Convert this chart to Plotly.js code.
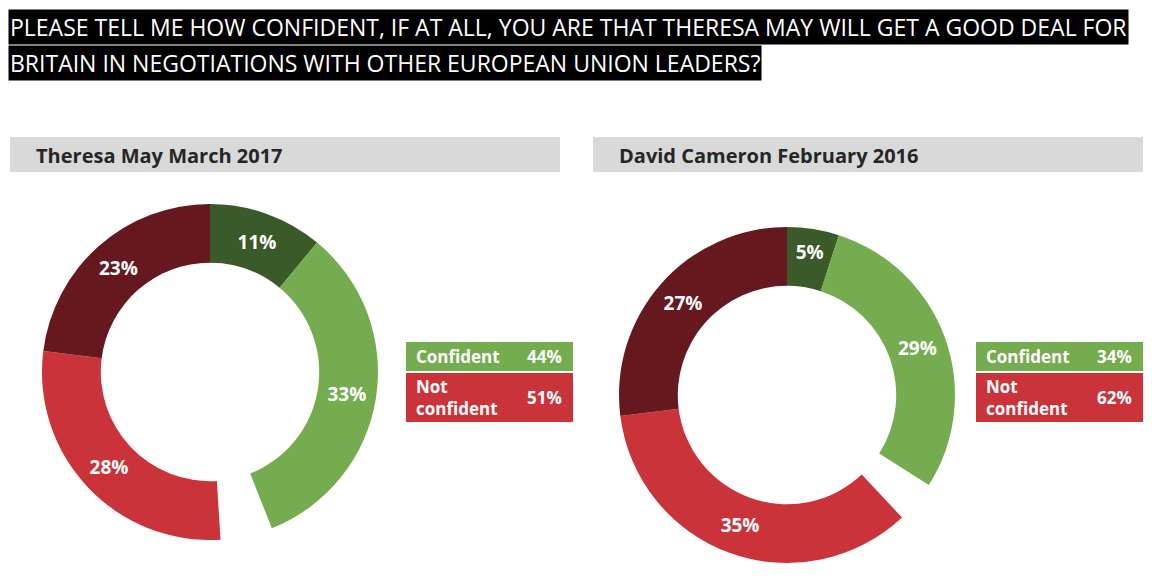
<!DOCTYPE html>
<html>
<head>
<meta charset="utf-8">
<script src="https://cdn.plot.ly/plotly-3.0.1.min.js"></script>
<style>html,body{margin:0;padding:0;background:#fff;}#chart{width:1155px;height:584px;}</style>
</head>
<body>
<div id="chart"></div>
<script>
// Data
var sliceLabels = ["Very confident", "Fairly confident", "Don't know", "Not very confident", "Not at all confident"];
var mayValues = [11, 33, 5, 28, 23];
var cameronValues = [5, 29, 4, 35, 27];
var mayTotals = {confident: 44, notConfident: 51};
var cameronTotals = {confident: 34, notConfident: 62};
var panelTitles = ["Theresa May March 2017", "David Cameron February 2016"];
var questionLines = [
  "PLEASE TELL ME HOW CONFIDENT, IF AT ALL, YOU ARE THAT THERESA MAY WILL GET A GOOD DEAL FOR",
  "BRITAIN IN NEGOTIATIONS WITH OTHER EUROPEAN UNION LEADERS?"
];

var sliceColors = ["#3b5a2a", "#75ac50", "rgba(0,0,0,0)", "#cb333b", "#65191e"];
var FONT = "'Open Sans', 'Noto Sans', sans-serif";
var W = 1155, H = 584;
function px(x){ return x / W; }
function py(y){ return 1 - y / H; }

function texts(vals){
  return vals.map(function(v, i){ return i === 2 ? "" : v + "%"; });
}

function pie(vals, x0, y0, x1, y1){
  return {
    type: "pie",
    values: vals,
    labels: sliceLabels,
    text: texts(vals),
    textinfo: "text",
    textposition: "inside",
    insidetextorientation: "horizontal",
    hole: 0.65,
    sort: false,
    direction: "clockwise",
    rotation: 0,
    marker: {colors: sliceColors, line: {width: 0}},
    textfont: {family: FONT, size: 19, color: "#ffffff", weight: "bold"},
    domain: {x: [px(x0), px(x1)], y: [py(y1), py(y0)]},
    showlegend: false,
    hoverinfo: "label+percent"
  };
}

var data = [
  pie(mayValues, 42, 204, 378, 540),
  pie(cameronValues, 619, 227, 955, 563)
];

var shapes = [];
var annotations = [];

// question title lines
annotations.push({
  xref: "paper", yref: "paper", x: px(8), y: py(9), xanchor: "left", yanchor: "top",
  text: questionLines[0], showarrow: false, bgcolor: "#000000", borderpad: 1,
  font: {family: FONT, size: 23, color: "#ffffff"}
});
annotations.push({
  xref: "paper", yref: "paper", x: px(8), y: py(45), xanchor: "left", yanchor: "top",
  text: questionLines[1], showarrow: false, bgcolor: "#000000", borderpad: 1,
  font: {family: FONT, size: 23, color: "#ffffff"}
});

// panel headers
[[10, 560], [593, 1143]].forEach(function(r, i){
  shapes.push({type: "rect", xref: "paper", yref: "paper", x0: px(r[0]), x1: px(r[1]), y0: py(172), y1: py(137),
    fillcolor: "#d9d9d9", line: {width: 0}, layer: "below"});
  annotations.push({xref: "paper", yref: "paper", x: px(r[0] + 24), y: py(155), xanchor: "left", yanchor: "middle",
    text: "<b>" + panelTitles[i] + "</b>", showarrow: false, font: {family: FONT, size: 20, color: "#262626"}});
});

// summary boxes
[[406, 573, mayTotals], [976, 1143, cameronTotals]].forEach(function(r){
  shapes.push({type: "rect", xref: "paper", yref: "paper", x0: px(r[0]), x1: px(r[1]), y0: py(371), y1: py(342),
    fillcolor: "#75ac50", line: {width: 0}});
  shapes.push({type: "rect", xref: "paper", yref: "paper", x0: px(r[0]), x1: px(r[1]), y0: py(422), y1: py(373),
    fillcolor: "#cb333b", line: {width: 0}});
  var f = {family: FONT, size: 17, color: "#ffffff"};
  annotations.push({xref: "paper", yref: "paper", x: px(r[0] + 8), y: py(357), xanchor: "left", yanchor: "middle",
    text: "<b>Confident</b>", showarrow: false, font: f});
  annotations.push({xref: "paper", yref: "paper", x: px(r[1] - 9), y: py(357), xanchor: "right", yanchor: "middle",
    text: "<b>" + r[2].confident + "%</b>", showarrow: false, font: f});
  annotations.push({xref: "paper", yref: "paper", x: px(r[0] + 8), y: py(398), xanchor: "left", yanchor: "middle",
    text: "<b>Not<br>confident</b>", showarrow: false, align: "left", font: f});
  annotations.push({xref: "paper", yref: "paper", x: px(r[1] - 9), y: py(398), xanchor: "right", yanchor: "middle",
    text: "<b>" + r[2].notConfident + "%</b>", showarrow: false, font: f});
});

var layout = {
  width: W, height: H,
  margin: {l: 0, r: 0, t: 0, b: 0},
  paper_bgcolor: "#ffffff",
  plot_bgcolor: "#ffffff",
  shapes: shapes,
  annotations: annotations,
  font: {family: FONT}
};

Plotly.newPlot("chart", data, layout, {displayModeBar: false, staticPlot: true});
</script>
</body>
</html>
